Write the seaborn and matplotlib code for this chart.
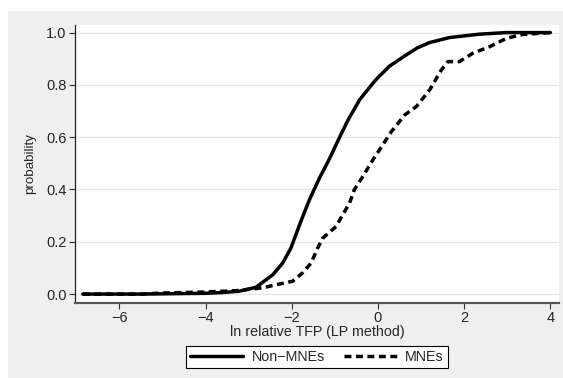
import pandas as pd
import numpy as np
import seaborn as sns
import matplotlib.pyplot as plt
from matplotlib.patches import Rectangle
from matplotlib.lines import Line2D

# cumulative distributions
non_mne_x = [-6.85, -5.5, -5.0, -4.5, -4.0, -3.6, -3.22, -2.83, -2.44, -2.21, -2.02,
             -1.82, -1.59, -1.36, -1.13, -0.89, -0.70, -0.43, -0.12,
             0.0, 0.27, 0.65, 0.92, 1.20, 1.66, 2.36, 2.98, 4.0]
non_mne_p = [0.0, 0.0, 0.001, 0.002, 0.003, 0.006, 0.011, 0.026, 0.074, 0.119, 0.176,
             0.265, 0.361, 0.443, 0.516, 0.600, 0.664, 0.742, 0.806,
             0.828, 0.872, 0.914, 0.942, 0.962, 0.981, 0.994, 1.0, 1.0]

mne_x = [-6.85, -5.5, -5.0, -4.5, -4.0, -3.28, -2.67, -2.36, -1.98, -1.75, -1.55,
         -1.40, -1.28, -0.97, -0.82, -0.66, -0.55, -0.35, -0.12, 0.03, 0.31, 0.62,
         0.89, 1.20, 1.47, 1.62, 1.89, 2.20, 2.59, 2.98, 3.36, 4.0]
mne_p = [0.0, 0.0, 0.004, 0.006, 0.008, 0.013, 0.024, 0.036, 0.049, 0.081, 0.119,
         0.176, 0.214, 0.259, 0.303, 0.348, 0.399, 0.45, 0.513, 0.55, 0.621, 0.685,
         0.717, 0.781, 0.857, 0.889, 0.889, 0.921, 0.946, 0.978, 0.993, 1.0]

df = pd.concat([
    pd.DataFrame({'x': non_mne_x, 'p': non_mne_p, 'group': 'Non\u2212MNEs'}),
    pd.DataFrame({'x': mne_x, 'p': mne_p, 'group': 'MNEs'}),
])

sns.set_style('white')
plt.rcParams['font.family'] = ['Liberation Sans', 'DejaVu Sans']

fig = plt.figure(figsize=(5.63, 3.78), dpi=100)
fig.patch.set_facecolor('white')
# grey graph region (Stata style)
fig.patches.append(Rectangle((8 / 563, 0), 1 - 8 / 563, 1 - 11 / 378,
                             transform=fig.transFigure, facecolor='#efefef',
                             edgecolor='none', zorder=-10))

ax = fig.add_axes([75 / 563, 1 - 302.7 / 378, (559 - 75) / 563, (302.7 - 25) / 378])
ax.set_facecolor('white')

sns.lineplot(data=df, x='x', y='p', hue='group', style='group',
             palette=['black', 'black'],
             dashes={'Non\u2212MNEs': '', 'MNEs': (2.0, 1.3)},
             estimator=None, sort=False, linewidth=2.5, ax=ax, legend=False)

ax.set_xlim(-7.03, 4.2)
ax.set_ylim(-0.033, 1.029)
ax.set_xticks([-6, -4, -2, 0, 2, 4])
ax.set_xticklabels(['\u22126', '\u22124', '\u22122', '0', '2', '4'])
ax.set_yticks([0, 0.2, 0.4, 0.6, 0.8, 1.0])
ax.set_yticklabels(['0.0', '0.2', '0.4', '0.6', '0.8', '1.0'])
ax.grid(axis='y', color='#e6e6e6', linewidth=1.0)
ax.set_axisbelow(True)
ax.tick_params(axis='both', direction='out', length=4, width=0.8, color='#333333',
               labelsize=10.5, pad=2, left=True, bottom=True)
for side in ['top', 'right']:
    ax.spines[side].set_visible(False)
ax.spines['left'].set_color('#222222')
ax.spines['bottom'].set_color('#555555')
ax.spines['left'].set_linewidth(0.9)
ax.spines['bottom'].set_linewidth(1.6)
ax.set_xlabel('ln relative TFP (LP method)', fontsize=10.3, labelpad=0)
ax.set_ylabel('probability', fontsize=9.6, labelpad=7)

handles = [Line2D([], [], color='black', linewidth=2.5),
           Line2D([], [], color='black', linewidth=2.5, dashes=(2.0, 1.3))]
leg = fig.legend(handles, ['Non\u2212MNEs', 'MNEs'], loc='center',
                 bbox_to_anchor=(317 / 563, 1 - 357 / 378), ncol=2,
                 fontsize=10.3, frameon=True, fancybox=False,
                 handlelength=3.7, columnspacing=1.3, handletextpad=0.6,
                 borderpad=0.3)
leg.get_frame().set_edgecolor('black')
leg.get_frame().set_linewidth(0.8)
leg.get_frame().set_facecolor('white')
leg.get_frame().set_alpha(1)

fig.savefig('out.png', dpi=100)
